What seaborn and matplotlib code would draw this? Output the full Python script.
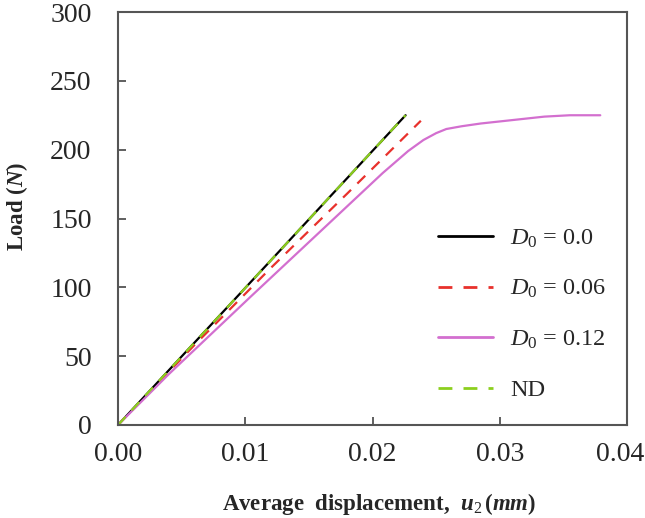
import matplotlib
matplotlib.use("Agg")
import matplotlib.pyplot as plt
import matplotlib.transforms as mtransforms
import seaborn as sns
import pandas as pd

# Data
x_d0 = [0.0, 0.0226]
y_d0 = [0.0, 225.0]

x_d006 = [0.0, 0.006, 0.012, 0.018, 0.0238]
y_d006 = [0.0, 58.0, 114.0, 168.0, 221.0]

x_d012 = [0.0, 0.004, 0.0104, 0.0156, 0.0208, 0.0228, 0.024, 0.025, 0.0258,
          0.027, 0.0285, 0.031, 0.0335, 0.0355, 0.0379]
y_d012 = [0.0, 37.0, 93.0, 138.0, 183.0, 199.0, 207.0, 212.0, 215.0,
          217.0, 219.0, 221.5, 224.0, 225.0, 225.0]

x_nd = [0.0, 0.0226]
y_nd = [0.0, 225.0]

labels = [r"$D_0$ = 0.0", r"$D_0$ = 0.06", r"$D_0$ = 0.12", "ND"]
colors = ["#000000", "#e8312c", "#d36fcf", "#8ccf1e"]

x_ticks = [0.00, 0.01, 0.02, 0.03, 0.04]
x_tick_labels = ["0.00", "0.01", "0.02", "0.03", "0.04"]
y_ticks = [0, 50, 100, 150, 200, 250, 300]

sns.set_style("white")
plt.rcParams["font.family"] = ["Liberation Serif", "DejaVu Serif"]
plt.rcParams["mathtext.fontset"] = "custom"
plt.rcParams["mathtext.rm"] = "Liberation Serif"
plt.rcParams["mathtext.it"] = "Liberation Serif:italic"
plt.rcParams["mathtext.bf"] = "Liberation Serif:bold"
plt.rcParams["mathtext.bfit"] = "Liberation Serif:italic:bold"

fig = plt.figure(figsize=(6.45, 5.18), dpi=100)
ax = fig.add_axes([118/645, 1 - 425/518, (627-118)/645, (425-12)/518])

series = [(x_d0, y_d0), (x_d006, y_d006), (x_d012, y_d012), (x_nd, y_nd)]
styles = ["-", (0, (5, 4)), "-", (0, (5, 4))]
widths = [1.6, 1.6, 1.6, 1.6]
for (xs, ys), lab, col, ls, lw in zip(series, labels, colors, styles, widths):
    df = pd.DataFrame({"x": xs, "y": ys})
    sns.lineplot(data=df, x="x", y="y", ax=ax, color=col, label=lab,
                 linewidth=lw, linestyle=ls, sort=False, estimator=None)

ax.set_xlim(0, 0.04)
ax.set_ylim(0, 300)
ax.set_xticks(x_ticks)
ax.set_xticklabels(x_tick_labels)
ax.set_yticks(y_ticks)
ax.tick_params(axis="both", direction="in", length=6, width=1.2, color="#444444",
               labelsize=20, bottom=True, left=True, top=False, right=False)
ax.tick_params(axis="x", pad=12)
ax.tick_params(axis="y", pad=19)
for sp in ax.spines.values():
    sp.set_color("#555555")
    sp.set_linewidth(1.5)

# nudge the last x tick label slightly so it stays inside the canvas
last = ax.get_xticklabels()[-1]
last.set_transform(last.get_transform() +
                   mtransforms.ScaledTranslation(-7/100, 0, fig.dpi_scale_trans))

ax.set_xlabel(r"Average  displacement,  $\mathbfit{u}_{2}$$\,$($\mathbfit{mm}$)",
              fontsize=16.5, fontweight="bold")
ax.set_ylabel(r"Load ($\mathbfit{N}$)", fontsize=16.5, fontweight="bold")
ax.xaxis.set_label_coords(0.512, -0.160)
ax.yaxis.set_label_coords(-0.172, 0.530)

leg = ax.legend(loc="upper left", bbox_to_anchor=(0.629, 0.478), frameon=False,
                fontsize=17.5, handlelength=2.26, handletextpad=0.7, labelspacing=1.16,
                borderaxespad=0, borderpad=0)
for h in leg.get_lines():
    h.set_linewidth(2.0)

fig.savefig("out.png", dpi=100, facecolor="white")
